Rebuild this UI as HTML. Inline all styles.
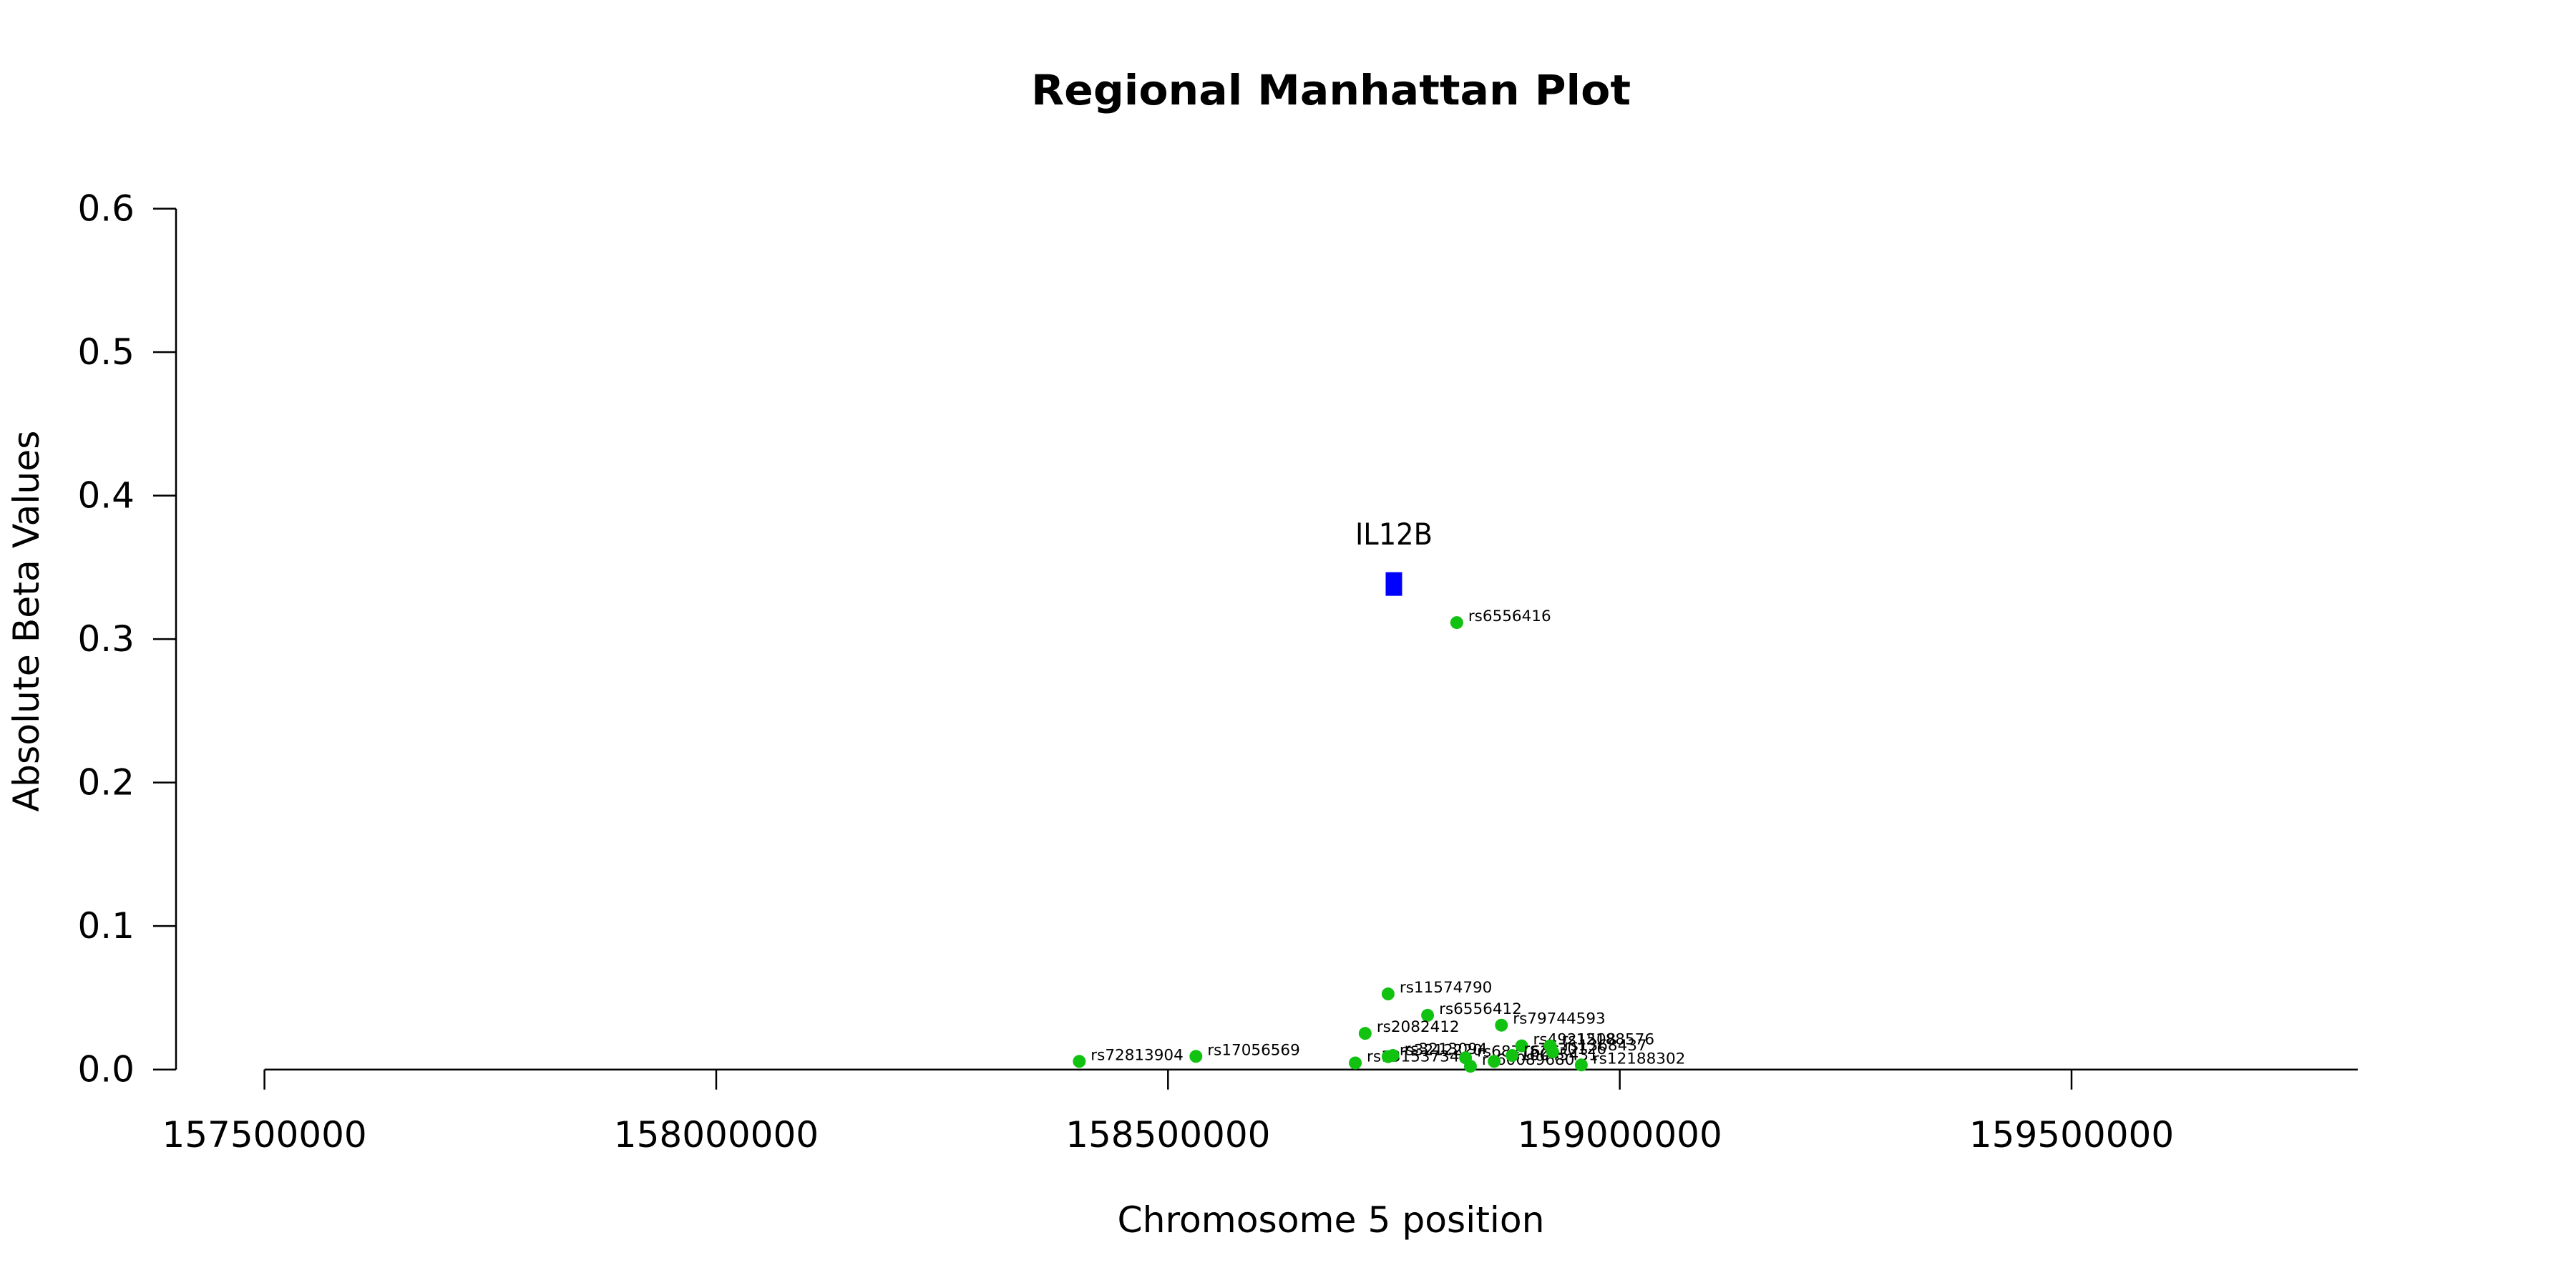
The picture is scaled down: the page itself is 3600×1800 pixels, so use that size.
<!DOCTYPE html>
<html><head><meta charset="utf-8"><style>
html,body{margin:0;padding:0;background:#fff;}
svg{display:block;font-family:"DejaVu Sans","Liberation Sans",sans-serif;}
</style></head><body>
<svg id="chart" width="3600" height="1800" viewBox="0 0 3600 1800" xmlns="http://www.w3.org/2000/svg">
<rect width="3600" height="1800" fill="#fff"/>
<text x="1860" y="146" font-size="58" font-weight="bold" text-anchor="middle" textLength="838" lengthAdjust="spacingAndGlyphs">Regional Manhattan Plot</text>
<text x="1860" y="1722" font-size="50" text-anchor="middle" textLength="597" lengthAdjust="spacingAndGlyphs">Chromosome 5 position</text>
<text transform="translate(54,868) rotate(-90)" font-size="50" text-anchor="middle" textLength="533" lengthAdjust="spacingAndGlyphs">Absolute Beta Values</text>
<g id="axes"></g>
<g id="marks"></g>
</svg>
<script>
const xTicks = [157500000, 158000000, 158500000, 159000000, 159500000];
const yTicks = [0.0, 0.1, 0.2, 0.3, 0.4, 0.5, 0.6];
const yTickLabels = ["0.0", "0.1", "0.2", "0.3", "0.4", "0.5", "0.6"];
const snpNames = ["rs6556416","rs11574790","rs6556412","rs79744593","rs2082412","rs72813904","rs17056569","rs13153734","rs3213094","rs3212220","rs6871626","rs60089680","rs10045431","rs4921508","rs7730126","rs12188576","rs1368437","rs12188302"];
const snpPos = [158819600,158743600,158787300,158869000,158718200,158401800,158530900,158707300,158748900,158743600,158829300,158834700,158861000,158891400,158880900,158923100,158925700,158957400];
const snpBeta = [0.3115,0.0527,0.0378,0.0309,0.0252,0.0057,0.0092,0.0046,0.0098,0.0090,0.0082,0.0023,0.0057,0.0165,0.0098,0.0165,0.0123,0.0032];
const geneNames = ["IL12B"];
const genePos = [158750000];
const geneBeta = [0.3384];

const X0 = 157500000, X1 = 159500000, PX0 = 369.6, PX1 = 2895;
const Y0 = 0, Y1 = 0.6, PY0 = 1494.7, PY1 = 291.6;
function xs(v){ return PX0 + (v - X0) / (X1 - X0) * (PX1 - PX0); }
function ys(v){ return PY0 + (v - Y0) / (Y1 - Y0) * (PY1 - PY0); }
const NS = "http://www.w3.org/2000/svg";
function mk(tag, attrs, parent){ const e = document.createElementNS(NS, tag); for (const k in attrs) e.setAttribute(k, attrs[k]); parent.appendChild(e); return e; }
const axes = document.getElementById("axes");
const marks = document.getElementById("marks");

let l = mk("line", {x1:246, x2:246, y1:ys(0), y2:ys(0.6), stroke:"#000", "stroke-width":2.5}, axes);


yTicks.forEach((t, i) => {
  const tk = mk("line", {x1:214, x2:246, y1:ys(t), y2:ys(t), stroke:"#000", "stroke-width":2.5}, axes);
  
  
  const tx = mk("text", {x:188, y:ys(t)+17, "font-size":50, "text-anchor":"end"}, axes);
  tx.textContent = yTickLabels[i];
  
  
});
l = mk("line", {x1:xs(X0), x2:xs(X1)+400, y1:PY0, y2:PY0, stroke:"#000", "stroke-width":2.5}, axes);


xTicks.forEach(t => {
  const tk = mk("line", {x1:xs(t), x2:xs(t), y1:PY0, y2:PY0+28, stroke:"#000", "stroke-width":2.5}, axes);
  
  
  const tx = mk("text", {x:xs(t), y:1603, "font-size":50, "text-anchor":"middle"}, axes);
  tx.textContent = String(t);
  
  
});

geneNames.forEach((g, i) => {
  const cx = xs(genePos[i]), cy = ys(geneBeta[i]);
  const r = mk("rect", {x:cx-11.5, y:cy-16.5, width:23, height:33, fill:"#0000ff"}, marks);
  
  
  const tx = mk("text", {x:cx, y:cy-55, "font-size":42, "text-anchor":"middle", textLength:108, lengthAdjust:"spacingAndGlyphs"}, marks);
  tx.textContent = g;
  
  
});
snpNames.forEach((n, i) => {
  const cx = xs(snpPos[i]), cy = ys(snpBeta[i]);
  const c = mk("circle", {cx:cx, cy:cy, r:9, fill:"#11c211"}, marks);
  
  
  const tx = mk("text", {x:cx+16, y:cy-2, "font-size":21.5}, marks);
  tx.textContent = n;
  
  
});
</script>
</body></html>
